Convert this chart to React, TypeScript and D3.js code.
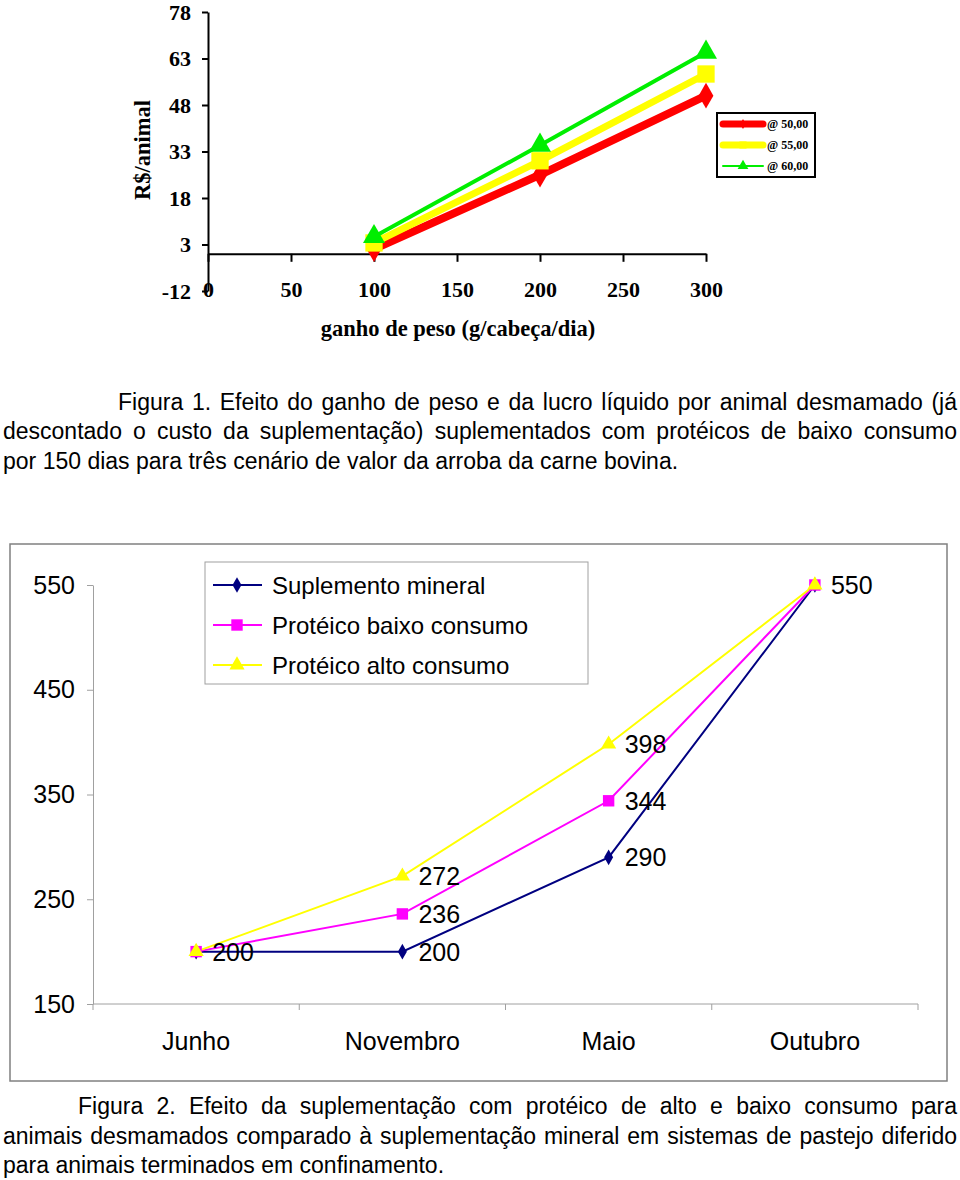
import React, { useRef, useEffect } from 'react'
import * as d3 from 'd3'

// Figura 1 - lucro por animal x ganho de peso
const gains = [100, 200, 300]
const gainTicks = [0, 50, 100, 150, 200, 250, 300]
const profitTicks = [-12, 3, 18, 33, 48, 63, 78]
const scenarios = ['@ 50,00', '@ 55,00', '@ 60,00']
const profit50 = [1.5, 25.5, 51]
const profit55 = [3.5, 30, 58]
const profit60 = [5.5, 35, 65]

// Figura 2 - peso por época
const months = ['Junho', 'Novembro', 'Maio', 'Outubro']
const weightTicks = [150, 250, 350, 450, 550]
const treatments = ['Suplemento mineral', 'Protéico baixo consumo', 'Protéico alto consumo']
const mineral = [200, 200, 290, 550]
const lowIntake = [200, 236, 344, 550]
const highIntake = [200, 272, 398, 550]

const caption1 = [
  'Figura 1. Efeito do ganho de peso e da lucro líquido por animal desmamado (já',
  'descontado o custo da suplementação) suplementados com protéicos de baixo consumo',
  'por 150 dias para três cenário de valor da arroba da carne bovina.',
]
const caption2 = [
  'Figura 2. Efeito da suplementação com protéico de alto e baixo consumo para',
  'animais desmamados comparado à suplementação mineral em sistemas de pastejo diferido',
  'para animais terminados em confinamento.',
]

const serif = '"Liberation Serif", "Times New Roman", serif'
const sans = '"Liberation Sans", Arial, Helvetica, sans-serif'

function App() {
  const svgRef = useRef<SVGSVGElement>(null)

  useEffect(() => {
    const svg = d3.select(svgRef.current)
    svg.selectAll('*').remove()

    // ---------- Figura 1 ----------
    const x1 = d3.scaleLinear().domain([0, 300]).range([208, 706])
    const y1 = d3.scaleLinear().domain([-12, 78]).range([291, 12])
    const top = svg.append('g')

    top.append('g')
      .attr('transform', `translate(${x1(0)},0)`)
      .call(d3.axisLeft(y1).tickValues(profitTicks).tickSize(6).tickSizeOuter(0).tickPadding(11)
        .tickFormat(d => String(d)))
      .call(g => {
        g.attr('font-family', serif).attr('font-size', 22).attr('font-weight', 'bold')
        g.select('.domain').attr('stroke', '#000').attr('stroke-width', 2)
        g.selectAll('.tick line').attr('stroke', '#000').attr('stroke-width', 2)
        g.selectAll('.tick text').attr('fill', '#000')
      })

    top.append('g')
      .attr('transform', `translate(0,${y1(0)})`)
      .call(d3.axisBottom(x1).tickValues(gainTicks).tickSize(8).tickSizeOuter(0).tickPadding(20))
      .call(g => {
        g.attr('font-family', serif).attr('font-size', 22).attr('font-weight', 'bold')
        g.select('.domain').attr('stroke', '#000').attr('stroke-width', 2)
        g.selectAll('.tick line').attr('stroke', '#000').attr('stroke-width', 2)
        g.selectAll('.tick text').attr('fill', '#000')
      })

    top.append('text')
      .attr('transform', 'translate(142,150) rotate(-90)')
      .attr('text-anchor', 'middle').attr('dy', '0.35em')
      .attr('font-family', serif).attr('font-size', 22.5).attr('font-weight', 'bold')
      .text('R$/animal')

    top.append('text')
      .attr('x', 458).attr('y', 336)
      .attr('text-anchor', 'middle')
      .attr('font-family', serif).attr('font-size', 22.5).attr('font-weight', 'bold')
      .text('ganho de peso (g/cabeça/dia)')

    const topSeries = [
      { values: profit50, color: '#ff0000', width: 8, symbol: d3.symbolDiamond, size: 190, legendSize: 30 },
      { values: profit55, color: '#ffff00', width: 7, symbol: d3.symbolSquare, size: 300, legendSize: 50 },
      { values: profit60, color: '#00ee00', width: 4, symbol: d3.symbolTriangle, size: 210, legendSize: 50 },
    ]
    const line1 = d3.line<number>().x((d, i) => x1(gains[i])).y(d => y1(d))
    topSeries.forEach(s => {
      top.append('path').attr('d', line1(s.values)).attr('fill', 'none')
        .attr('stroke', s.color).attr('stroke-width', s.width)
      top.selectAll(null).data(s.values).join('path')
        .attr('transform', (d, i) => `translate(${x1(gains[i])},${y1(d)})`)
        .attr('d', d3.symbol(s.symbol, s.size)())
        .attr('fill', s.color)
    })

    // legend
    const leg1 = top.append('g')
    leg1.append('rect').attr('x', 717).attr('y', 113).attr('width', 98).attr('height', 64)
      .attr('fill', '#fff').attr('stroke', '#000').attr('stroke-width', 2)
    topSeries.forEach((s, i) => {
      const ly = 124 + i * 21
      leg1.append('line').attr('x1', 723).attr('x2', 763).attr('y1', ly).attr('y2', ly)
        .attr('stroke', s.color).attr('stroke-width', i === 2 ? 2 : 7).attr('stroke-linecap', 'round')
      leg1.append('path').attr('transform', `translate(743,${ly})`)
        .attr('d', d3.symbol(s.symbol, s.legendSize)()).attr('fill', s.color)
      leg1.append('text').attr('x', 767).attr('y', ly + 4)
        .attr('font-family', serif).attr('font-size', 12).attr('font-weight', 'bold')
        .text(scenarios[i])
    })

    // ---------- captions ----------
    const writeLine = (txt: string, left: number, right: number | null, baseline: number) => {
      const g = svg.append('g').attr('font-family', sans).attr('font-size', 23).attr('fill', '#000')
      if (right === null) {
        g.append('text').attr('x', left).attr('y', baseline).text(txt)
        return
      }
      const words = txt.split(' ')
      const nodes = words.map(w => g.append('text').attr('y', baseline).text(w))
      const widths = nodes.map(n => (n.node() as SVGTextElement).getComputedTextLength())
      const gap = (right - left - d3.sum(widths)) / (words.length - 1)
      let cx = left
      nodes.forEach((n, i) => { n.attr('x', cx); cx += widths[i] + gap })
    }
    writeLine(caption1[0], 118, 957, 410)
    writeLine(caption1[1], 3, 957, 439)
    writeLine(caption1[2], 3, null, 469)

    // ---------- Figura 2 ----------
    const bot = svg.append('g')
    bot.append('rect').attr('x', 10).attr('y', 544).attr('width', 937).attr('height', 537)
      .attr('fill', '#fff').attr('stroke', '#808080').attr('stroke-width', 1.5)

    const x2 = d3.scaleBand().domain(months).range([93, 918])
    const y2 = d3.scaleLinear().domain([150, 550]).range([1004, 585])

    bot.append('g')
      .attr('transform', 'translate(93,0)')
      .call(d3.axisLeft(y2).tickValues(weightTicks).tickSize(6).tickSizeOuter(0).tickPadding(12))
      .call(g => {
        g.attr('font-family', sans).attr('font-size', 25)
        g.select('.domain').attr('stroke', '#a0a0a0')
        g.selectAll('.tick line').attr('stroke', '#a0a0a0')
        g.selectAll('.tick text').attr('fill', '#000')
      })

    const xAxis2 = bot.append('g').attr('transform', 'translate(0,1004)')
    xAxis2.append('line').attr('x1', 93).attr('x2', 918).attr('stroke', '#a0a0a0')
    const bounds = months.map(m => x2(m) as number).concat([918])
    xAxis2.selectAll(null).data(bounds).join('line')
      .attr('x1', d => d).attr('x2', d => d).attr('y1', 0).attr('y2', 6)
      .attr('stroke', '#a0a0a0')
    xAxis2.selectAll(null).data(months).join('text')
      .attr('x', d => (x2(d) as number) + x2.bandwidth() / 2)
      .attr('y', 46)
      .attr('text-anchor', 'middle')
      .attr('font-family', sans).attr('font-size', 25)
      .text(d => d)

    const botSeries = [
      { values: mineral, color: '#000080', symbol: d3.symbolDiamond, size: 70 },
      { values: lowIntake, color: '#ff00ff', symbol: d3.symbolSquare, size: 130 },
      { values: highIntake, color: '#ffff00', symbol: d3.symbolTriangle, size: 100 },
    ]
    const cx = (i: number) => (x2(months[i]) as number) + x2.bandwidth() / 2
    const line2 = d3.line<number>().x((d, i) => cx(i)).y(d => y2(d))
    botSeries.forEach(s => {
      bot.append('path').attr('d', line2(s.values)).attr('fill', 'none')
        .attr('stroke', s.color).attr('stroke-width', 2)
    })
    botSeries.forEach(s => {
      bot.selectAll(null).data(s.values).join('path')
        .attr('transform', (d, i) => `translate(${cx(i)},${y2(d)})`)
        .attr('d', d3.symbol(s.symbol, s.size)())
        .attr('fill', s.color)
    })

    // data labels, one per distinct point
    const labels: { i: number; v: number }[] = []
    botSeries.forEach(s => s.values.forEach((v, i) => {
      if (!labels.some(l => l.i === i && l.v === v)) labels.push({ i, v })
    }))
    bot.selectAll(null).data(labels).join('text')
      .attr('x', d => cx(d.i) + 16)
      .attr('y', d => y2(d.v) + 9)
      .attr('font-family', sans).attr('font-size', 25)
      .text(d => d.v)

    // legend
    const leg2 = bot.append('g')
    leg2.append('rect').attr('x', 205).attr('y', 562).attr('width', 383).attr('height', 122)
      .attr('fill', '#fff').attr('stroke', '#a0a0a0').attr('stroke-width', 1)
    botSeries.forEach((s, i) => {
      const ly = 585 + i * 40
      leg2.append('line').attr('x1', 213).attr('x2', 262).attr('y1', ly).attr('y2', ly)
        .attr('stroke', s.color).attr('stroke-width', 2)
      leg2.append('path').attr('transform', `translate(237,${ly})`)
        .attr('d', d3.symbol(s.symbol, s.size)()).attr('fill', s.color)
      leg2.append('text').attr('x', 272).attr('y', ly + 9)
        .attr('font-family', sans).attr('font-size', 24)
        .text(treatments[i])
    })

    writeLine(caption2[0], 78, 957, 1114)
    writeLine(caption2[1], 3, 957, 1144)
    writeLine(caption2[2], 3, null, 1173)
  }, [])

  return (
    <svg ref={svgRef} width={960} height={1180}
      style={{ position: 'absolute', left: 0, top: 0, background: '#fff' }} />
  )
}

export default App
